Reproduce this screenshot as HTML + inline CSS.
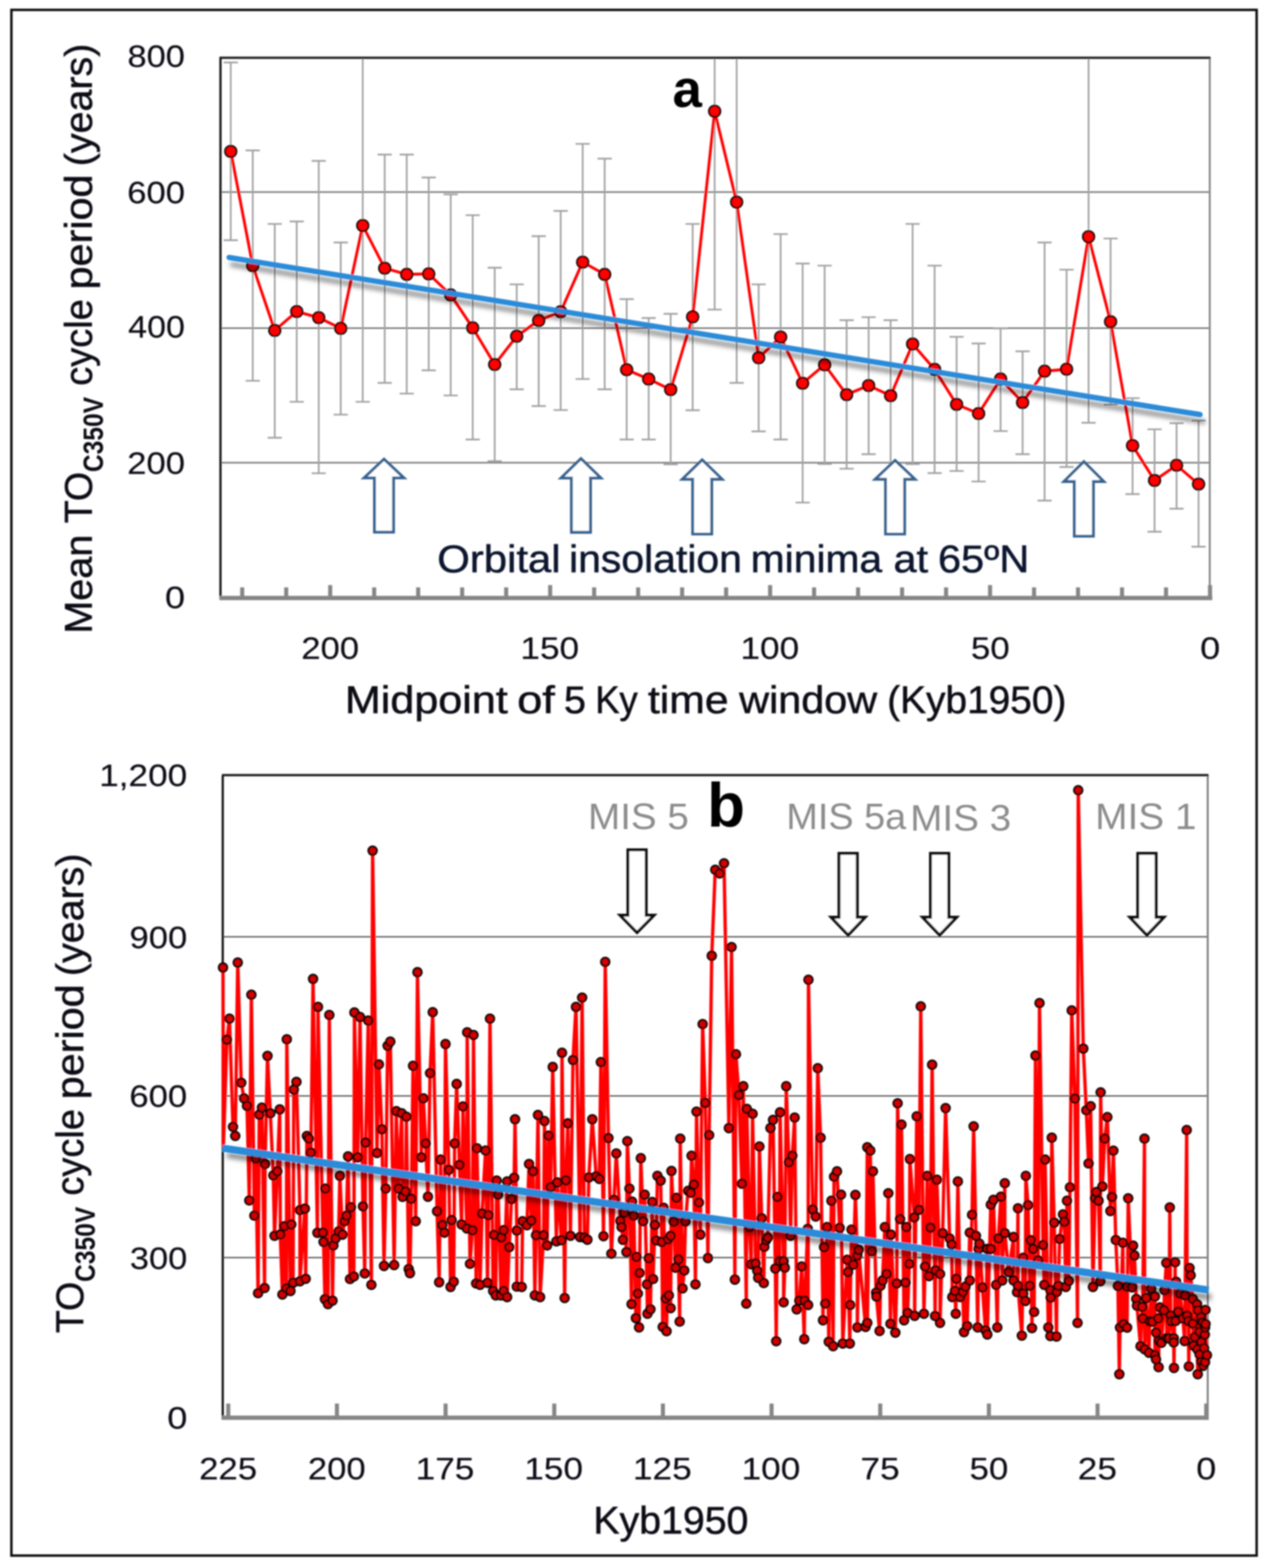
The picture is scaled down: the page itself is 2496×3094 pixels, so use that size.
<!DOCTYPE html>
<html lang="en"><head><meta charset="utf-8"><title>TO cycle period</title>
<style>
html,body{margin:0;padding:0;background:#fff;}
body{width:2496px;height:3094px;}
svg{display:block;font-family:"Liberation Sans", sans-serif;}
</style></head><body>
<svg width="2496" height="3094" viewBox="0 0 2496 3094">
<defs>
<filter id="sh" x="-5%" y="-50%" width="110%" height="200%"><feGaussianBlur stdDeviation="5"/></filter>
<filter id="soft" x="-2%" y="-2%" width="104%" height="104%"><feGaussianBlur stdDeviation="1.4"/></filter>
</defs>
<rect width="2496" height="3094" fill="#fff"/>
<g filter="url(#soft)">

<rect x="22.5" y="19.5" width="2457" height="3050" fill="none" stroke="#0a0a0a" stroke-width="4.8"/>
<line x1="435.0" x2="2387.0" y1="913" y2="913" stroke="#787878" stroke-width="3"/>
<line x1="435.0" x2="2387.0" y1="647.5" y2="647.5" stroke="#787878" stroke-width="3"/>
<line x1="435.0" x2="2387.0" y1="379" y2="379" stroke="#787878" stroke-width="3"/>
<g stroke="#a2a2a2" stroke-width="3.4" fill="none">
<path d="M455.3 123.2V474M441.3 474h28M441.3 123.2h28"/>
<path d="M498.7 296.7V751.4M484.7 751.4h28M484.7 296.7h28"/>
<path d="M542.1 441.9V863.7M528.1 863.7h28M528.1 441.9h28"/>
<path d="M585.5 437V792.9M571.5 792.9h28M571.5 437h28"/>
<path d="M628.9 317.5V933.9M614.9 933.9h28M614.9 317.5h28"/>
<path d="M672.3 478.5V818.1M658.3 818.1h28M658.3 478.5h28"/>
<path d="M715.7 114V792.9M701.7 792.9h28"/>
<path d="M759.1 305V755.5M745.1 755.5h28M745.1 305h28"/>
<path d="M802.5 305V776.6M788.5 776.6h28M788.5 305h28"/>
<path d="M845.9 350.3V730.7M831.9 730.7h28M831.9 350.3h28"/>
<path d="M889.3 383.5V780.4M875.3 780.4h28M875.3 383.5h28"/>
<path d="M932.7 424.6V867.2M918.7 867.2h28M918.7 424.6h28"/>
<path d="M976.1 528.3V910M962.1 910h28M962.1 528.3h28"/>
<path d="M1019.5 561.1V768.3M1005.5 768.3h28M1005.5 561.1h28"/>
<path d="M1062.9 466V801.2M1048.9 801.2h28M1048.9 466h28"/>
<path d="M1106.3 416.3V809.1M1092.3 809.1h28M1092.3 416.3h28"/>
<path d="M1149.7 283.9V747.9M1135.7 747.9h28M1135.7 283.9h28"/>
<path d="M1193.1 313V768.3M1179.1 768.3h28M1179.1 313h28"/>
<path d="M1236.5 590.2V867.2M1222.5 867.2h28M1222.5 590.2h28"/>
<path d="M1279.9 627.5V867.2M1265.9 867.2h28M1265.9 627.5h28"/>
<path d="M1323.3 619.2V916.3M1309.3 916.3h28M1309.3 619.2h28"/>
<path d="M1366.7 441.9V809.5M1352.7 809.5h28M1352.7 441.9h28"/>
<path d="M1410.1 114V610.9M1396.1 610.9h28"/>
<path d="M1453.5 114V755.5M1439.5 755.5h28"/>
<path d="M1496.9 561.1V851.3M1482.9 851.3h28M1482.9 561.1h28"/>
<path d="M1540.3 461.9V867.2M1526.3 867.2h28M1526.3 461.9h28"/>
<path d="M1583.7 520V991.6M1569.7 991.6h28M1569.7 520h28"/>
<path d="M1627.1 524.1V915.5M1613.1 915.5h28M1613.1 524.1h28"/>
<path d="M1670.5 631.8V924.9M1656.5 924.9h28M1656.5 631.8h28"/>
<path d="M1713.9 625.9V896.2M1699.9 896.2h28M1699.9 625.9h28"/>
<path d="M1757.3 631.8V930M1743.3 930h28M1743.3 631.8h28"/>
<path d="M1800.7 441.9V915.7M1786.7 915.7h28M1786.7 441.9h28"/>
<path d="M1844.1 524.1V933.5M1830.1 933.5h28M1830.1 524.1h28"/>
<path d="M1887.5 664.6V929.4M1873.5 929.4h28M1873.5 664.6h28"/>
<path d="M1930.9 677.8V950.1M1916.9 950.1h28M1916.9 677.8h28"/>
<path d="M1974.3 648V850.6M1960.3 850.6h28M1960.3 648h28"/>
<path d="M2017.7 693.3V896.2M2003.7 896.2h28M2003.7 693.3h28"/>
<path d="M2061.1 478.5V987.8M2047.1 987.8h28M2047.1 478.5h28"/>
<path d="M2104.5 532.1V921.5M2090.5 921.5h28M2090.5 532.1h28"/>
<path d="M2147.9 114V834.3M2133.9 834.3h28"/>
<path d="M2191.3 470.6V798.5M2177.3 798.5h28M2177.3 470.6h28"/>
<path d="M2234.7 785.6V975M2220.7 975h28M2220.7 785.6h28"/>
<path d="M2278.1 847.1V1049.3M2264.1 1049.3h28M2264.1 847.1h28"/>
<path d="M2321.5 835V1003.7M2307.5 1003.7h28M2307.5 835h28"/>
<path d="M2364.9 829.9V1078.7M2350.9 1078.7h28M2350.9 829.9h28"/>
</g>
<line x1="2387.0" x2="2387.0" y1="114.0" y2="1179.5" stroke="#8c8c8c" stroke-width="4"/>
<line x1="433.0" x2="2388.5" y1="114.0" y2="114.0" stroke="#1c1c1c" stroke-width="4.4"/>
<line x1="435.0" x2="435.0" y1="114.0" y2="1182.5" stroke="#141414" stroke-width="4.4"/>
<line x1="433.0" x2="2392.0" y1="1180.0" y2="1180.0" stroke="#858585" stroke-width="8.5"/>
<g stroke="#858585" stroke-width="8">
<line x1="2387.5" x2="2387.5" y1="1154.5" y2="1179.5"/>
<line x1="2300.7" x2="2300.7" y1="1159" y2="1179.5"/>
<line x1="2213.9" x2="2213.9" y1="1159" y2="1179.5"/>
<line x1="2127.1" x2="2127.1" y1="1159" y2="1179.5"/>
<line x1="2040.3" x2="2040.3" y1="1159" y2="1179.5"/>
<line x1="1953.5" x2="1953.5" y1="1154.5" y2="1179.5"/>
<line x1="1866.7" x2="1866.7" y1="1159" y2="1179.5"/>
<line x1="1779.9" x2="1779.9" y1="1159" y2="1179.5"/>
<line x1="1693.1" x2="1693.1" y1="1159" y2="1179.5"/>
<line x1="1606.3" x2="1606.3" y1="1159" y2="1179.5"/>
<line x1="1519.5" x2="1519.5" y1="1154.5" y2="1179.5"/>
<line x1="1432.7" x2="1432.7" y1="1159" y2="1179.5"/>
<line x1="1345.9" x2="1345.9" y1="1159" y2="1179.5"/>
<line x1="1259.1" x2="1259.1" y1="1159" y2="1179.5"/>
<line x1="1172.3" x2="1172.3" y1="1159" y2="1179.5"/>
<line x1="1085.5" x2="1085.5" y1="1154.5" y2="1179.5"/>
<line x1="998.7" x2="998.7" y1="1159" y2="1179.5"/>
<line x1="911.9" x2="911.9" y1="1159" y2="1179.5"/>
<line x1="825.1" x2="825.1" y1="1159" y2="1179.5"/>
<line x1="738.3" x2="738.3" y1="1159" y2="1179.5"/>
<line x1="651.5" x2="651.5" y1="1154.5" y2="1179.5"/>
<line x1="564.7" x2="564.7" y1="1159" y2="1179.5"/>
<line x1="477.9" x2="477.9" y1="1159" y2="1179.5"/>
</g>
<path d="M757.7 906L797 943H776.5V1050H738.9V943H718.4Z" fill="#fff" stroke="#35628f" stroke-width="5.6" stroke-linejoin="miter"/>
<path d="M1146.3 905L1185.6 943.2H1165.1V1050.4H1127.5V943.2H1107Z" fill="#fff" stroke="#35628f" stroke-width="5.6" stroke-linejoin="miter"/>
<path d="M1385.5 907.5L1424.8 945.6H1404.3V1053.8H1366.7V945.6H1346.2Z" fill="#fff" stroke="#35628f" stroke-width="5.6" stroke-linejoin="miter"/>
<path d="M1766.1 908.5L1805.4 945.6H1784.9V1053.8H1747.3V945.6H1726.8Z" fill="#fff" stroke="#35628f" stroke-width="5.6" stroke-linejoin="miter"/>
<path d="M2138.6 911L2177.9 950.1H2157.4V1058H2119.8V950.1H2099.3Z" fill="#fff" stroke="#35628f" stroke-width="5.6" stroke-linejoin="miter"/>
<polyline points="455.3,298.8 498.7,524.2 542.1,652 585.5,614.7 628.9,626.8 672.3,647.9 715.7,445 759.1,529.3 802.5,541.4 845.9,540.4 889.3,581.9 932.7,646.9 976.1,719.2 1019.5,663.4 1062.9,632.4 1106.3,615 1149.7,517.2 1193.1,541.4 1236.5,729.6 1279.9,747.9 1323.3,768.7 1366.7,625.3 1410.1,219.6 1453.5,398.7 1496.9,706.1 1540.3,665 1583.7,756.2 1627.1,719.9 1670.5,778.7 1713.9,760.7 1757.3,780.8 1800.7,678.8 1844.1,728.9 1887.5,798 1930.9,816 1974.3,747.9 2017.7,794.2 2061.1,732.4 2104.5,728.6 2147.9,467.1 2191.3,634.7 2234.7,879.3 2278.1,948.1 2321.5,918 2364.9,955.3" fill="none" stroke="#ff0000" stroke-width="5.6" stroke-linejoin="round"/>
<g fill="#ff0000" stroke="#000" stroke-width="3.5">
<circle cx="455.3" cy="298.8" r="11.3"/>
<circle cx="498.7" cy="524.2" r="11.3"/>
<circle cx="542.1" cy="652" r="11.3"/>
<circle cx="585.5" cy="614.7" r="11.3"/>
<circle cx="628.9" cy="626.8" r="11.3"/>
<circle cx="672.3" cy="647.9" r="11.3"/>
<circle cx="715.7" cy="445" r="11.3"/>
<circle cx="759.1" cy="529.3" r="11.3"/>
<circle cx="802.5" cy="541.4" r="11.3"/>
<circle cx="845.9" cy="540.4" r="11.3"/>
<circle cx="889.3" cy="581.9" r="11.3"/>
<circle cx="932.7" cy="646.9" r="11.3"/>
<circle cx="976.1" cy="719.2" r="11.3"/>
<circle cx="1019.5" cy="663.4" r="11.3"/>
<circle cx="1062.9" cy="632.4" r="11.3"/>
<circle cx="1106.3" cy="615" r="11.3"/>
<circle cx="1149.7" cy="517.2" r="11.3"/>
<circle cx="1193.1" cy="541.4" r="11.3"/>
<circle cx="1236.5" cy="729.6" r="11.3"/>
<circle cx="1279.9" cy="747.9" r="11.3"/>
<circle cx="1323.3" cy="768.7" r="11.3"/>
<circle cx="1366.7" cy="625.3" r="11.3"/>
<circle cx="1410.1" cy="219.6" r="11.3"/>
<circle cx="1453.5" cy="398.7" r="11.3"/>
<circle cx="1496.9" cy="706.1" r="11.3"/>
<circle cx="1540.3" cy="665" r="11.3"/>
<circle cx="1583.7" cy="756.2" r="11.3"/>
<circle cx="1627.1" cy="719.9" r="11.3"/>
<circle cx="1670.5" cy="778.7" r="11.3"/>
<circle cx="1713.9" cy="760.7" r="11.3"/>
<circle cx="1757.3" cy="780.8" r="11.3"/>
<circle cx="1800.7" cy="678.8" r="11.3"/>
<circle cx="1844.1" cy="728.9" r="11.3"/>
<circle cx="1887.5" cy="798" r="11.3"/>
<circle cx="1930.9" cy="816" r="11.3"/>
<circle cx="1974.3" cy="747.9" r="11.3"/>
<circle cx="2017.7" cy="794.2" r="11.3"/>
<circle cx="2061.1" cy="732.4" r="11.3"/>
<circle cx="2104.5" cy="728.6" r="11.3"/>
<circle cx="2147.9" cy="467.1" r="11.3"/>
<circle cx="2191.3" cy="634.7" r="11.3"/>
<circle cx="2234.7" cy="879.3" r="11.3"/>
<circle cx="2278.1" cy="948.1" r="11.3"/>
<circle cx="2321.5" cy="918" r="11.3"/>
<circle cx="2364.9" cy="955.3" r="11.3"/>
</g>
<line x1="458" y1="522" x2="2374" y2="832" stroke="#000" stroke-opacity="0.45" stroke-width="9" stroke-linecap="round" filter="url(#sh)"/>
<line x1="452" y1="508" x2="2368" y2="818" stroke="#2b8bd9" stroke-width="10.4" stroke-linecap="round"/>
<text transform="translate(251.4 132.1) scale(1.1153 1)" font-size="61" fill="#101018" stroke="#101018" stroke-width="0.3">800</text>
<text transform="translate(250.9 400.8) scale(1.1206 1)" font-size="61" fill="#101018" stroke="#101018" stroke-width="0.3">600</text>
<text transform="translate(252.8 666.2) scale(1.1014 1)" font-size="61" fill="#101018" stroke="#101018" stroke-width="0.3">400</text>
<text transform="translate(250.9 935.3) scale(1.1206 1)" font-size="61" fill="#101018" stroke="#101018" stroke-width="0.3">200</text>
<text transform="translate(325.5 1199.9) scale(1.1673 1)" font-size="61" fill="#101018" stroke="#101018" stroke-width="0.3">0</text>
<text transform="translate(594.4 1300) scale(1.1206 1)" font-size="61" fill="#101018" stroke="#101018" stroke-width="0.3">200</text>
<text transform="translate(1026.8 1300) scale(1.1386 1)" font-size="61" fill="#101018" stroke="#101018" stroke-width="0.3">150</text>
<text transform="translate(1461 1300) scale(1.1386 1)" font-size="61" fill="#101018" stroke="#101018" stroke-width="0.3">100</text>
<text transform="translate(1915.8 1300) scale(1.1273 1)" font-size="61" fill="#101018" stroke="#101018" stroke-width="0.3">50</text>
<text transform="translate(2367.9 1300) scale(1.1673 1)" font-size="61" fill="#101018" stroke="#101018" stroke-width="0.3">0</text>
<text transform="translate(680.4 1407.1) scale(1.1120 1)" font-size="76.5" fill="#101018" stroke="#101018" stroke-width="1.0">Midpoint</text>
<text transform="translate(1020.5 1407.1) scale(1.1645 1)" font-size="76.5" fill="#101018" stroke="#101018" stroke-width="1.0">of</text>
<text transform="translate(1112.8 1407.1) scale(1.0210 1)" font-size="76.5" fill="#101018" stroke="#101018" stroke-width="1.0">5</text>
<text transform="translate(1174.4 1407.1) scale(0.9395 1)" font-size="76.5" fill="#101018" stroke="#101018" stroke-width="1.0">Ky</text>
<text transform="translate(1278.4 1407.1) scale(1.1008 1)" font-size="76.5" fill="#101018" stroke="#101018" stroke-width="1.0">time</text>
<text transform="translate(1458.5 1407.1) scale(1.0669 1)" font-size="76.5" fill="#101018" stroke="#101018" stroke-width="1.0">window</text>
<text transform="translate(1750.6 1407.1) scale(1.0018 1)" font-size="76.5" fill="#101018" stroke="#101018" stroke-width="1.0">(Kyb1950)</text>
<text transform="translate(862.7 1129.2) scale(1.0809 1)" font-size="76.5" fill="#10182e" stroke="#10182e" stroke-width="1.0">Orbital</text>
<text transform="translate(1122.7 1129.2) scale(1.0560 1)" font-size="76.5" fill="#10182e" stroke="#10182e" stroke-width="1.0">insolation</text>
<text transform="translate(1481.3 1129.2) scale(1.0515 1)" font-size="76.5" fill="#10182e" stroke="#10182e" stroke-width="1.0">minima</text>
<text transform="translate(1763.1 1129.2) scale(1.0691 1)" font-size="76.5" fill="#10182e" stroke="#10182e" stroke-width="1.0">at</text>
<text transform="translate(1850.7 1129.2) scale(1.0704 1)" font-size="76.5" fill="#10182e" stroke="#10182e" stroke-width="1.0">65ºN</text>
<text transform="translate(1326.9 210.6) scale(1.0119 1)" font-size="103" fill="#000" font-weight="bold">a</text>
<text transform="translate(180.9 1250.5) rotate(-90) scale(1.0213 1)" font-size="76.5" fill="#101018" stroke="#101018" stroke-width="1.0">Mean</text>
<text transform="translate(180.9 1032.5) rotate(-90) scale(0.9673 1)" font-size="76.5" fill="#101018" stroke="#101018" stroke-width="1.0">TO</text>
<text transform="translate(203.2 931.4) rotate(-90) scale(0.8813 1)" font-size="55" fill="#101018" font-weight="bold">C350V</text>
<text transform="translate(180.9 761.2) rotate(-90) scale(0.9808 1)" font-size="76.5" fill="#101018" stroke="#101018" stroke-width="1.0">cycle</text>
<text transform="translate(180.9 571.3) rotate(-90) scale(1.0679 1)" font-size="76.5" fill="#101018" stroke="#101018" stroke-width="1.0">period</text>
<text transform="translate(180.9 327.9) rotate(-90) scale(1.0156 1)" font-size="76.5" fill="#101018" stroke="#101018" stroke-width="1.0">(years)</text>
<line x1="439.5" x2="2383.0" y1="2481.5" y2="2481.5" stroke="#6a6a6a" stroke-width="3.2"/>
<line x1="439.5" x2="2383.0" y1="2162.5" y2="2162.5" stroke="#6a6a6a" stroke-width="3.2"/>
<line x1="439.5" x2="2383.0" y1="1848.5" y2="1848.5" stroke="#6a6a6a" stroke-width="3.2"/>
<line x1="2383.0" x2="2383.0" y1="1529.5" y2="2797.5" stroke="#858585" stroke-width="4"/>
<line x1="438.0" x2="2384.5" y1="1529.5" y2="1529.5" stroke="#1c1c1c" stroke-width="4.4"/>
<line x1="439.5" x2="439.5" y1="1529.5" y2="2800.5" stroke="#141414" stroke-width="4.4"/>
<line x1="437.5" x2="2385.0" y1="2797.5" y2="2797.5" stroke="#858585" stroke-width="8.5"/>
<g stroke="#858585" stroke-width="8">
<line x1="2380" x2="2380" y1="2769.5" y2="2797.5"/>
<line x1="2165.6" x2="2165.6" y1="2769.5" y2="2797.5"/>
<line x1="1951.2" x2="1951.2" y1="2769.5" y2="2797.5"/>
<line x1="1736.8" x2="1736.8" y1="2769.5" y2="2797.5"/>
<line x1="1522.4" x2="1522.4" y1="2769.5" y2="2797.5"/>
<line x1="1308" x2="1308" y1="2769.5" y2="2797.5"/>
<line x1="1093.6" x2="1093.6" y1="2769.5" y2="2797.5"/>
<line x1="879.2" x2="879.2" y1="2769.5" y2="2797.5"/>
<line x1="664.8" x2="664.8" y1="2769.5" y2="2797.5"/>
<line x1="450.4" x2="450.4" y1="2769.5" y2="2797.5"/>
</g>
<path d="M1239 1677H1275V1806H1290.5L1257 1840L1223.5 1806H1239Z" fill="#fff" stroke="#0c0c0c" stroke-width="5.8" stroke-linejoin="miter"/>
<path d="M1655.5 1684H1691.5V1810H1707L1673.5 1845L1640 1810H1655.5Z" fill="#fff" stroke="#0c0c0c" stroke-width="5.8" stroke-linejoin="miter"/>
<path d="M1836 1684H1872V1810H1887.5L1854 1845L1820.5 1810H1836Z" fill="#fff" stroke="#0c0c0c" stroke-width="5.8" stroke-linejoin="miter"/>
<path d="M2245 1684H2281V1810H2296.5L2263 1845L2229.5 1810H2245Z" fill="#fff" stroke="#0c0c0c" stroke-width="5.8" stroke-linejoin="miter"/>
<polyline points="440,1909.1 440.8,2262 447.6,2051.5 452.8,2010 459.7,2223.5 464.2,2241.5 469.1,1899.4 476,2136.5 481.5,2167.3 487.4,2182.1 491.9,2368.7 496,1962.7 501.9,2398.7 504.7,2285.7 509.2,2551.8 511.6,2199.4 516.8,2185.6 522,2541.5 523,2296.8 527.8,2083.6 533.4,2196.7 539.2,2319.2 541.7,2438.5 547.2,2311.3 552,2189.1 553.1,2435.7 557.2,2554.3 561,2419.5 565.2,2542.2 565.9,2050.8 573.1,2547.4 574.8,2416 578.3,2531.1 579.7,2150 584.9,2134.8 591.8,2387.7 591.8,2528.3 601.5,2384.9 603.2,2523.2 605.6,2241.5 609.4,2246.7 613.5,2274.3 617.7,1931.6 626.3,2432.6 627.4,1986.9 637.1,2432.3 638.4,2450.6 641.2,2563.6 641.9,2345.2 647.1,2573.3 649.8,2002.8 656.1,2566.4 657.8,2457.5 661.9,2443.7 668.2,2429.8 670.6,2320.3 675.8,2436.1 679.9,2409.8 683.7,2398.7 686.8,2281.9 690.6,2523.8 692.4,2382.1 698.2,2518.7 699.3,1997.9 705.8,2283.6 710.3,2006.9 716.2,2380.4 719.7,2512.8 721.4,2254.6 726.6,2013.8 732.8,2535.3 735.2,1678.6 743.8,2275 747.6,2100.2 753.5,2228.3 757.7,2497.9 761.1,2345.2 764.9,2063.6 770.1,2055.3 777.7,2496.2 781.9,2192.5 786.4,2345.2 792.6,2196.7 794.3,2361.8 800.2,2351 801.9,2203.5 806.4,2504.1 808.8,2512.1 811.6,2365.2 815,2103 820.2,2409.8 823.7,1918.4 831.3,2283.6 835.4,2167.3 839.9,2256.3 844.4,2361.4 848.6,2117.5 853.8,1997.2 862.4,2390.1 866.5,2530.1 869.3,2288.1 872.8,2417.1 876.9,2432.3 879,2060.1 885.6,2308.2 889,2539.4 891.1,2407.4 895.2,2529 897,2256.3 901.1,2138.9 906.6,2298.5 910.8,2416 913.5,2183.2 921.2,2424 921.8,2037 927.4,2493.8 932.2,2427.4 934.3,2042.2 939.5,2532.5 940.9,2265.7 947.1,2535.3 951.2,2394.6 958.1,2270.2 961.9,2531.1 963.7,2397.7 966.8,2010 973,2547.4 974.7,2436.8 978.2,2556 979.9,2329.6 982.7,2357.3 988.5,2556 989.2,2441.9 993.7,2427.4 993.7,2547.4 1000.6,2331.3 1000.6,2559.4 1004.8,2460.9 1009.3,2365.9 1014.5,2323.7 1016.2,2208.6 1019.7,2428.1 1019.7,2538.7 1029.4,2539.4 1031.1,2409.8 1039.7,2417.7 1043.9,2296.8 1048.4,2408.4 1051.8,2311.3 1055.3,2556 1057.7,2437.4 1061.5,2200.1 1065.7,2559.4 1072.6,2437.4 1074.3,2212.1 1079.5,2457.5 1082.3,2240.8 1086.4,2342.4 1090.6,2105.4 1097.8,2449.5 1099.5,2333.1 1107.8,2447.1 1108.9,2077.4 1114.1,2561.2 1116.5,2328.9 1120.3,2216.6 1125.5,2438.5 1130.6,2091.6 1136.5,1986.9 1144.5,2440.9 1148.6,1968.5 1153.1,2441.9 1159,2446.1 1161.8,2323.4 1168.7,2208.6 1176.3,2321 1182.5,2326.2 1185.6,2095.7 1190.8,2439.2 1194.2,1898 1200.5,2245.6 1206.3,2473.7 1211.5,2367.6 1216,2276 1224,2409.1 1226.4,2421.2 1229.1,2446.4 1231.6,2392.9 1236.1,2470.6 1237.8,2251.8 1241.9,2345.2 1246.1,2573.3 1247.1,2371.1 1250.6,2398.7 1254.7,2600.9 1255.8,2480 1258.5,2552.5 1260.9,2619.2 1262,2511.8 1264.4,2285.4 1268.9,2409.8 1272,2357.3 1276.5,2534.2 1277.5,2592.3 1280,2482.7 1283.4,2583.6 1286.9,2371.8 1288.6,2523.8 1292.1,2417.1 1294.8,2447.8 1297.2,2320.3 1303.5,2329.6 1305.9,2450.6 1307.6,2618.2 1309.3,2383.2 1313.5,2562.2 1315.2,2626.8 1318,2445.4 1319.7,2556 1323.2,2438.5 1323.2,2581.2 1324.9,2310.6 1329.4,2410.8 1332.8,2501.4 1334.6,2363.5 1338.7,2485.1 1341.1,2607.8 1342.2,2246.7 1346.7,2542.2 1350.1,2506.9 1352.5,2410.1 1357.7,2349.7 1362.9,2353.8 1364.6,2280.5 1369.1,2337.2 1372.2,2534.2 1374.3,2193.5 1379.1,2372.8 1381.9,2436.1 1386.4,2020.7 1391.6,2176.3 1396.8,2482.4 1399.2,2239.7 1404.4,1885.9 1411.3,1716.2 1419.9,1723.5 1428.6,1703.5 1438.2,2225.9 1443.4,1868.7 1450,2524.9 1452.1,2080.2 1457.9,2160.7 1463.8,2335.8 1466.6,2143.4 1472.5,2572.2 1473.5,2188 1478.7,2421.2 1482.1,2494.8 1484.9,2197.7 1490.8,2493.1 1494.2,2507.6 1496,2521.4 1498.4,2262.2 1502.9,2403.9 1507,2531.8 1508.1,2460.3 1511.5,2447.1 1515,2441.9 1520.2,2225.9 1525.3,2209.7 1529.8,2503.1 1531.6,2646.5 1534,2361.8 1538.1,2488.6 1539.2,2194.9 1546.1,2488.6 1546.1,2569.8 1548.5,2501.4 1551.3,2143.4 1556.5,2293.3 1559.9,2438.5 1563.4,2280.2 1567.9,2205.2 1572,2583.6 1577.2,2566.4 1581.7,2499 1586.9,2642.4 1587.6,2566.4 1593.8,2424.7 1594.5,2575 1595.2,1933.3 1603.5,2386.6 1609.4,2400.5 1613.5,2107.8 1619.1,2244.9 1623.9,2605.1 1626,2460.9 1628.4,2572.2 1631.8,2421.2 1635.3,2647.6 1640.5,2369.4 1643.9,2656.2 1645.7,2321.7 1651.5,2311.3 1656.7,2422.9 1659.5,2357.3 1662.9,2651 1671.6,2485.8 1673.3,2510 1676.8,2651 1677.5,2575 1680.2,2426.4 1683.7,2495.5 1687.8,2357.9 1691.6,2477.5 1691.6,2619.2 1694.1,2466.1 1707.9,2618.2 1711.3,2263.9 1711.3,2610.3 1717.2,2270.2 1720,2468.9 1722.4,2311.3 1728.6,2550.8 1729.3,2558.4 1735.5,2626.2 1737.3,2537 1741.4,2526.6 1745.9,2421.2 1749.4,2513.8 1752.8,2354.5 1757,2612 1758,2436.1 1766.6,2629.6 1769.4,2532.5 1771.1,2177 1776,2405.6 1778.7,2219 1783.9,2605.1 1786.7,2530.8 1788.4,2421.2 1790.8,2590.6 1794.3,2493.8 1795.3,2287.1 1804,2402.2 1804.7,2596.4 1808.8,2202.8 1813.3,2387.3 1816.8,1985.8 1823,2592.3 1825.4,2499 1829.5,2320.3 1833,2518 1835.8,2422.2 1839.2,2100.9 1845.1,2596.8 1846.1,2506.6 1848.5,2327.9 1854.8,2513.8 1854.8,2610.3 1860,2433.3 1865.8,2186.6 1873.8,2443.7 1877.9,2455.8 1879,2559.4 1884.1,2547.4 1885.9,2592.3 1886.9,2523.2 1890,2331.3 1894.5,2559.4 1899.7,2549.1 1902.1,2628.6 1904.9,2538.7 1908.3,2616.5 1913.5,2432.3 1913.5,2526.6 1918,2397 1921.1,2222.5 1925.6,2438.5 1929.1,2619.2 1930.8,2464.4 1932.5,2454 1938.4,2540.4 1944.6,2625.1 1948.1,2464.4 1948.1,2633.1 1955,2377 1955,2464.4 1960.2,2367.6 1965.4,2535.3 1967.8,2619.2 1969.9,2443.7 1975,2361.4 1977.5,2526.6 1982.6,2334.8 1982.6,2433.3 1990.3,2510 1999.9,2440.9 1999.9,2526.6 2006.8,2549.8 2008.6,2384.2 2008.6,2537 2016.2,2635.5 2018.9,2481.7 2018.9,2552.5 2023.1,2567.1 2024.1,2320.3 2028.6,2378 2031.7,2537 2033.8,2447.1 2036.2,2620.6 2038.6,2464.4 2040.4,2588.8 2043.1,2082.9 2048.3,2486.9 2051.1,1979.3 2058,2456.8 2060.4,2535.3 2062.1,2288.1 2068.4,2619.2 2072.5,2545.6 2072.5,2636.2 2073.2,2560.5 2075.3,2244.9 2080.1,2412.6 2084.6,2637.2 2085.3,2549.1 2088.1,2537 2090.8,2444.7 2097.4,2396.3 2100.2,2410.8 2102.9,2539.4 2105.3,2369.4 2108.8,2527.6 2111.2,2342.7 2114.7,1993.8 2120.9,2167.6 2126.1,2610.3 2127.5,1559.3 2137.5,2069.1 2143.4,2190.8 2147.9,2295.7 2152,2182.8 2156.5,2539.4 2160.6,2364.2 2163.1,2352.1 2167.6,2369.4 2171,2528.3 2171.7,2155.5 2175.2,2341 2179.7,2246.7 2184.9,2204.2 2191,2389.6 2194.1,2361.7 2196.8,2270.5 2201.6,2446.7 2205.8,2537.4 2208.6,2711.6 2209.9,2619.6 2215.5,2452.3 2216.9,2612.6 2223.9,2538.8 2223.9,2619.6 2226.1,2364.5 2233.6,2540.1 2235.6,2457.9 2238.4,2477.4 2242,2563 2243.4,2576.4 2250.4,2656.4 2253.5,2578.8 2254.6,2601.5 2258.2,2246.8 2258.6,2662.5 2261.5,2561.1 2267.1,2669.2 2268.5,2607.1 2271.3,2542.9 2273.8,2608 2278.8,2558.3 2278.8,2674 2281,2629.4 2281,2682.3 2285.2,2601.5 2286.1,2697.7 2286.6,2646.1 2288.6,2579.7 2291.5,2649.8 2296.6,2585.2 2297.8,2545.7 2301.4,2491.9 2302,2640.5 2306.7,2640.9 2308.1,2382.6 2309.8,2595.9 2311.2,2607.1 2315.9,2640.5 2315.9,2648.9 2316.4,2699.1 2318.7,2490.8 2319.4,2606.7 2320.6,2529 2324.8,2588.1 2328.4,2552.7 2334,2601.5 2337.4,2646.1 2338.4,2556 2341.5,2229.8 2342.4,2595.9 2344.7,2606.7 2345.7,2696.3 2347.1,2502 2349.3,2516.4 2353.5,2563 2353.5,2611.8 2354.9,2655.3 2357.4,2638.4 2361.9,2573.6 2362.5,2662.5 2363.3,2711.6 2363.8,2585.2 2366.9,2628 2366.9,2672.6 2370,2599 2370.3,2648 2370.3,2686.5 2373,2609.3 2374.4,2694.9 2375.8,2660 2377.2,2633.6 2377.7,2619.4 2377.7,2687.8 2378.6,2584.8 2378.6,2612.6 2381.4,2674" fill="none" stroke="#ff0000" stroke-width="6.6" stroke-linejoin="round"/>
<g fill="#d40000" stroke="#000" stroke-width="4">
<circle cx="440" cy="1909.1" r="8.3"/>
<circle cx="447.6" cy="2051.5" r="8.3"/>
<circle cx="452.8" cy="2010" r="8.3"/>
<circle cx="459.7" cy="2223.5" r="8.3"/>
<circle cx="464.2" cy="2241.5" r="8.3"/>
<circle cx="469.1" cy="1899.4" r="8.3"/>
<circle cx="476" cy="2136.5" r="8.3"/>
<circle cx="481.5" cy="2167.3" r="8.3"/>
<circle cx="487.4" cy="2182.1" r="8.3"/>
<circle cx="491.9" cy="2368.7" r="8.3"/>
<circle cx="496" cy="1962.7" r="8.3"/>
<circle cx="501.9" cy="2398.7" r="8.3"/>
<circle cx="504.7" cy="2285.7" r="8.3"/>
<circle cx="509.2" cy="2551.8" r="8.3"/>
<circle cx="511.6" cy="2199.4" r="8.3"/>
<circle cx="516.8" cy="2185.6" r="8.3"/>
<circle cx="522" cy="2541.5" r="8.3"/>
<circle cx="523" cy="2296.8" r="8.3"/>
<circle cx="527.8" cy="2083.6" r="8.3"/>
<circle cx="533.4" cy="2196.7" r="8.3"/>
<circle cx="539.2" cy="2319.2" r="8.3"/>
<circle cx="541.7" cy="2438.5" r="8.3"/>
<circle cx="547.2" cy="2311.3" r="8.3"/>
<circle cx="552" cy="2189.1" r="8.3"/>
<circle cx="553.1" cy="2435.7" r="8.3"/>
<circle cx="557.2" cy="2554.3" r="8.3"/>
<circle cx="561" cy="2419.5" r="8.3"/>
<circle cx="565.2" cy="2542.2" r="8.3"/>
<circle cx="565.9" cy="2050.8" r="8.3"/>
<circle cx="573.1" cy="2547.4" r="8.3"/>
<circle cx="574.8" cy="2416" r="8.3"/>
<circle cx="578.3" cy="2531.1" r="8.3"/>
<circle cx="579.7" cy="2150" r="8.3"/>
<circle cx="584.9" cy="2134.8" r="8.3"/>
<circle cx="591.8" cy="2387.7" r="8.3"/>
<circle cx="591.8" cy="2528.3" r="8.3"/>
<circle cx="601.5" cy="2384.9" r="8.3"/>
<circle cx="603.2" cy="2523.2" r="8.3"/>
<circle cx="605.6" cy="2241.5" r="8.3"/>
<circle cx="609.4" cy="2246.7" r="8.3"/>
<circle cx="613.5" cy="2274.3" r="8.3"/>
<circle cx="617.7" cy="1931.6" r="8.3"/>
<circle cx="626.3" cy="2432.6" r="8.3"/>
<circle cx="627.4" cy="1986.9" r="8.3"/>
<circle cx="637.1" cy="2432.3" r="8.3"/>
<circle cx="638.4" cy="2450.6" r="8.3"/>
<circle cx="641.2" cy="2563.6" r="8.3"/>
<circle cx="641.9" cy="2345.2" r="8.3"/>
<circle cx="647.1" cy="2573.3" r="8.3"/>
<circle cx="649.8" cy="2002.8" r="8.3"/>
<circle cx="656.1" cy="2566.4" r="8.3"/>
<circle cx="657.8" cy="2457.5" r="8.3"/>
<circle cx="661.9" cy="2443.7" r="8.3"/>
<circle cx="668.2" cy="2429.8" r="8.3"/>
<circle cx="670.6" cy="2320.3" r="8.3"/>
<circle cx="675.8" cy="2436.1" r="8.3"/>
<circle cx="679.9" cy="2409.8" r="8.3"/>
<circle cx="683.7" cy="2398.7" r="8.3"/>
<circle cx="686.8" cy="2281.9" r="8.3"/>
<circle cx="690.6" cy="2523.8" r="8.3"/>
<circle cx="692.4" cy="2382.1" r="8.3"/>
<circle cx="698.2" cy="2518.7" r="8.3"/>
<circle cx="699.3" cy="1997.9" r="8.3"/>
<circle cx="705.8" cy="2283.6" r="8.3"/>
<circle cx="710.3" cy="2006.9" r="8.3"/>
<circle cx="716.2" cy="2380.4" r="8.3"/>
<circle cx="719.7" cy="2512.8" r="8.3"/>
<circle cx="721.4" cy="2254.6" r="8.3"/>
<circle cx="726.6" cy="2013.8" r="8.3"/>
<circle cx="732.8" cy="2535.3" r="8.3"/>
<circle cx="735.2" cy="1678.6" r="8.3"/>
<circle cx="743.8" cy="2275" r="8.3"/>
<circle cx="747.6" cy="2100.2" r="8.3"/>
<circle cx="753.5" cy="2228.3" r="8.3"/>
<circle cx="757.7" cy="2497.9" r="8.3"/>
<circle cx="761.1" cy="2345.2" r="8.3"/>
<circle cx="764.9" cy="2063.6" r="8.3"/>
<circle cx="770.1" cy="2055.3" r="8.3"/>
<circle cx="777.7" cy="2496.2" r="8.3"/>
<circle cx="781.9" cy="2192.5" r="8.3"/>
<circle cx="786.4" cy="2345.2" r="8.3"/>
<circle cx="792.6" cy="2196.7" r="8.3"/>
<circle cx="794.3" cy="2361.8" r="8.3"/>
<circle cx="800.2" cy="2351" r="8.3"/>
<circle cx="801.9" cy="2203.5" r="8.3"/>
<circle cx="806.4" cy="2504.1" r="8.3"/>
<circle cx="808.8" cy="2512.1" r="8.3"/>
<circle cx="811.6" cy="2365.2" r="8.3"/>
<circle cx="815" cy="2103" r="8.3"/>
<circle cx="820.2" cy="2409.8" r="8.3"/>
<circle cx="823.7" cy="1918.4" r="8.3"/>
<circle cx="831.3" cy="2283.6" r="8.3"/>
<circle cx="835.4" cy="2167.3" r="8.3"/>
<circle cx="839.9" cy="2256.3" r="8.3"/>
<circle cx="844.4" cy="2361.4" r="8.3"/>
<circle cx="848.6" cy="2117.5" r="8.3"/>
<circle cx="853.8" cy="1997.2" r="8.3"/>
<circle cx="862.4" cy="2390.1" r="8.3"/>
<circle cx="866.5" cy="2530.1" r="8.3"/>
<circle cx="869.3" cy="2288.1" r="8.3"/>
<circle cx="872.8" cy="2417.1" r="8.3"/>
<circle cx="876.9" cy="2432.3" r="8.3"/>
<circle cx="879" cy="2060.1" r="8.3"/>
<circle cx="885.6" cy="2308.2" r="8.3"/>
<circle cx="889" cy="2539.4" r="8.3"/>
<circle cx="891.1" cy="2407.4" r="8.3"/>
<circle cx="895.2" cy="2529" r="8.3"/>
<circle cx="897" cy="2256.3" r="8.3"/>
<circle cx="901.1" cy="2138.9" r="8.3"/>
<circle cx="906.6" cy="2298.5" r="8.3"/>
<circle cx="910.8" cy="2416" r="8.3"/>
<circle cx="913.5" cy="2183.2" r="8.3"/>
<circle cx="921.2" cy="2424" r="8.3"/>
<circle cx="921.8" cy="2037" r="8.3"/>
<circle cx="927.4" cy="2493.8" r="8.3"/>
<circle cx="932.2" cy="2427.4" r="8.3"/>
<circle cx="934.3" cy="2042.2" r="8.3"/>
<circle cx="939.5" cy="2532.5" r="8.3"/>
<circle cx="940.9" cy="2265.7" r="8.3"/>
<circle cx="947.1" cy="2535.3" r="8.3"/>
<circle cx="951.2" cy="2394.6" r="8.3"/>
<circle cx="958.1" cy="2270.2" r="8.3"/>
<circle cx="961.9" cy="2531.1" r="8.3"/>
<circle cx="963.7" cy="2397.7" r="8.3"/>
<circle cx="966.8" cy="2010" r="8.3"/>
<circle cx="973" cy="2547.4" r="8.3"/>
<circle cx="974.7" cy="2436.8" r="8.3"/>
<circle cx="978.2" cy="2556" r="8.3"/>
<circle cx="979.9" cy="2329.6" r="8.3"/>
<circle cx="982.7" cy="2357.3" r="8.3"/>
<circle cx="988.5" cy="2556" r="8.3"/>
<circle cx="989.2" cy="2441.9" r="8.3"/>
<circle cx="993.7" cy="2427.4" r="8.3"/>
<circle cx="993.7" cy="2547.4" r="8.3"/>
<circle cx="1000.6" cy="2331.3" r="8.3"/>
<circle cx="1000.6" cy="2559.4" r="8.3"/>
<circle cx="1004.8" cy="2460.9" r="8.3"/>
<circle cx="1009.3" cy="2365.9" r="8.3"/>
<circle cx="1014.5" cy="2323.7" r="8.3"/>
<circle cx="1016.2" cy="2208.6" r="8.3"/>
<circle cx="1019.7" cy="2428.1" r="8.3"/>
<circle cx="1019.7" cy="2538.7" r="8.3"/>
<circle cx="1029.4" cy="2539.4" r="8.3"/>
<circle cx="1031.1" cy="2409.8" r="8.3"/>
<circle cx="1039.7" cy="2417.7" r="8.3"/>
<circle cx="1043.9" cy="2296.8" r="8.3"/>
<circle cx="1048.4" cy="2408.4" r="8.3"/>
<circle cx="1051.8" cy="2311.3" r="8.3"/>
<circle cx="1055.3" cy="2556" r="8.3"/>
<circle cx="1057.7" cy="2437.4" r="8.3"/>
<circle cx="1061.5" cy="2200.1" r="8.3"/>
<circle cx="1065.7" cy="2559.4" r="8.3"/>
<circle cx="1072.6" cy="2437.4" r="8.3"/>
<circle cx="1074.3" cy="2212.1" r="8.3"/>
<circle cx="1079.5" cy="2457.5" r="8.3"/>
<circle cx="1082.3" cy="2240.8" r="8.3"/>
<circle cx="1086.4" cy="2342.4" r="8.3"/>
<circle cx="1090.6" cy="2105.4" r="8.3"/>
<circle cx="1097.8" cy="2449.5" r="8.3"/>
<circle cx="1099.5" cy="2333.1" r="8.3"/>
<circle cx="1107.8" cy="2447.1" r="8.3"/>
<circle cx="1108.9" cy="2077.4" r="8.3"/>
<circle cx="1114.1" cy="2561.2" r="8.3"/>
<circle cx="1116.5" cy="2328.9" r="8.3"/>
<circle cx="1120.3" cy="2216.6" r="8.3"/>
<circle cx="1125.5" cy="2438.5" r="8.3"/>
<circle cx="1130.6" cy="2091.6" r="8.3"/>
<circle cx="1136.5" cy="1986.9" r="8.3"/>
<circle cx="1144.5" cy="2440.9" r="8.3"/>
<circle cx="1148.6" cy="1968.5" r="8.3"/>
<circle cx="1153.1" cy="2441.9" r="8.3"/>
<circle cx="1159" cy="2446.1" r="8.3"/>
<circle cx="1161.8" cy="2323.4" r="8.3"/>
<circle cx="1168.7" cy="2208.6" r="8.3"/>
<circle cx="1176.3" cy="2321" r="8.3"/>
<circle cx="1182.5" cy="2326.2" r="8.3"/>
<circle cx="1185.6" cy="2095.7" r="8.3"/>
<circle cx="1190.8" cy="2439.2" r="8.3"/>
<circle cx="1194.2" cy="1898" r="8.3"/>
<circle cx="1200.5" cy="2245.6" r="8.3"/>
<circle cx="1206.3" cy="2473.7" r="8.3"/>
<circle cx="1211.5" cy="2367.6" r="8.3"/>
<circle cx="1216" cy="2276" r="8.3"/>
<circle cx="1224" cy="2409.1" r="8.3"/>
<circle cx="1226.4" cy="2421.2" r="8.3"/>
<circle cx="1229.1" cy="2446.4" r="8.3"/>
<circle cx="1231.6" cy="2392.9" r="8.3"/>
<circle cx="1236.1" cy="2470.6" r="8.3"/>
<circle cx="1237.8" cy="2251.8" r="8.3"/>
<circle cx="1241.9" cy="2345.2" r="8.3"/>
<circle cx="1246.1" cy="2573.3" r="8.3"/>
<circle cx="1247.1" cy="2371.1" r="8.3"/>
<circle cx="1250.6" cy="2398.7" r="8.3"/>
<circle cx="1254.7" cy="2600.9" r="8.3"/>
<circle cx="1255.8" cy="2480" r="8.3"/>
<circle cx="1258.5" cy="2552.5" r="8.3"/>
<circle cx="1260.9" cy="2619.2" r="8.3"/>
<circle cx="1262" cy="2511.8" r="8.3"/>
<circle cx="1264.4" cy="2285.4" r="8.3"/>
<circle cx="1268.9" cy="2409.8" r="8.3"/>
<circle cx="1272" cy="2357.3" r="8.3"/>
<circle cx="1276.5" cy="2534.2" r="8.3"/>
<circle cx="1277.5" cy="2592.3" r="8.3"/>
<circle cx="1280" cy="2482.7" r="8.3"/>
<circle cx="1283.4" cy="2583.6" r="8.3"/>
<circle cx="1286.9" cy="2371.8" r="8.3"/>
<circle cx="1288.6" cy="2523.8" r="8.3"/>
<circle cx="1292.1" cy="2417.1" r="8.3"/>
<circle cx="1294.8" cy="2447.8" r="8.3"/>
<circle cx="1297.2" cy="2320.3" r="8.3"/>
<circle cx="1303.5" cy="2329.6" r="8.3"/>
<circle cx="1305.9" cy="2450.6" r="8.3"/>
<circle cx="1307.6" cy="2618.2" r="8.3"/>
<circle cx="1309.3" cy="2383.2" r="8.3"/>
<circle cx="1313.5" cy="2562.2" r="8.3"/>
<circle cx="1315.2" cy="2626.8" r="8.3"/>
<circle cx="1318" cy="2445.4" r="8.3"/>
<circle cx="1319.7" cy="2556" r="8.3"/>
<circle cx="1323.2" cy="2438.5" r="8.3"/>
<circle cx="1323.2" cy="2581.2" r="8.3"/>
<circle cx="1324.9" cy="2310.6" r="8.3"/>
<circle cx="1329.4" cy="2410.8" r="8.3"/>
<circle cx="1332.8" cy="2501.4" r="8.3"/>
<circle cx="1334.6" cy="2363.5" r="8.3"/>
<circle cx="1338.7" cy="2485.1" r="8.3"/>
<circle cx="1341.1" cy="2607.8" r="8.3"/>
<circle cx="1342.2" cy="2246.7" r="8.3"/>
<circle cx="1346.7" cy="2542.2" r="8.3"/>
<circle cx="1350.1" cy="2506.9" r="8.3"/>
<circle cx="1352.5" cy="2410.1" r="8.3"/>
<circle cx="1357.7" cy="2349.7" r="8.3"/>
<circle cx="1362.9" cy="2353.8" r="8.3"/>
<circle cx="1364.6" cy="2280.5" r="8.3"/>
<circle cx="1369.1" cy="2337.2" r="8.3"/>
<circle cx="1372.2" cy="2534.2" r="8.3"/>
<circle cx="1374.3" cy="2193.5" r="8.3"/>
<circle cx="1379.1" cy="2372.8" r="8.3"/>
<circle cx="1381.9" cy="2436.1" r="8.3"/>
<circle cx="1386.4" cy="2020.7" r="8.3"/>
<circle cx="1391.6" cy="2176.3" r="8.3"/>
<circle cx="1396.8" cy="2482.4" r="8.3"/>
<circle cx="1399.2" cy="2239.7" r="8.3"/>
<circle cx="1404.4" cy="1885.9" r="8.3"/>
<circle cx="1411.3" cy="1716.2" r="8.3"/>
<circle cx="1419.9" cy="1723.5" r="8.3"/>
<circle cx="1428.6" cy="1703.5" r="8.3"/>
<circle cx="1438.2" cy="2225.9" r="8.3"/>
<circle cx="1443.4" cy="1868.7" r="8.3"/>
<circle cx="1450" cy="2524.9" r="8.3"/>
<circle cx="1452.1" cy="2080.2" r="8.3"/>
<circle cx="1457.9" cy="2160.7" r="8.3"/>
<circle cx="1463.8" cy="2335.8" r="8.3"/>
<circle cx="1466.6" cy="2143.4" r="8.3"/>
<circle cx="1472.5" cy="2572.2" r="8.3"/>
<circle cx="1473.5" cy="2188" r="8.3"/>
<circle cx="1478.7" cy="2421.2" r="8.3"/>
<circle cx="1482.1" cy="2494.8" r="8.3"/>
<circle cx="1484.9" cy="2197.7" r="8.3"/>
<circle cx="1490.8" cy="2493.1" r="8.3"/>
<circle cx="1494.2" cy="2507.6" r="8.3"/>
<circle cx="1496" cy="2521.4" r="8.3"/>
<circle cx="1498.4" cy="2262.2" r="8.3"/>
<circle cx="1502.9" cy="2403.9" r="8.3"/>
<circle cx="1507" cy="2531.8" r="8.3"/>
<circle cx="1508.1" cy="2460.3" r="8.3"/>
<circle cx="1511.5" cy="2447.1" r="8.3"/>
<circle cx="1515" cy="2441.9" r="8.3"/>
<circle cx="1520.2" cy="2225.9" r="8.3"/>
<circle cx="1525.3" cy="2209.7" r="8.3"/>
<circle cx="1529.8" cy="2503.1" r="8.3"/>
<circle cx="1531.6" cy="2646.5" r="8.3"/>
<circle cx="1534" cy="2361.8" r="8.3"/>
<circle cx="1538.1" cy="2488.6" r="8.3"/>
<circle cx="1539.2" cy="2194.9" r="8.3"/>
<circle cx="1546.1" cy="2488.6" r="8.3"/>
<circle cx="1546.1" cy="2569.8" r="8.3"/>
<circle cx="1548.5" cy="2501.4" r="8.3"/>
<circle cx="1551.3" cy="2143.4" r="8.3"/>
<circle cx="1556.5" cy="2293.3" r="8.3"/>
<circle cx="1559.9" cy="2438.5" r="8.3"/>
<circle cx="1563.4" cy="2280.2" r="8.3"/>
<circle cx="1567.9" cy="2205.2" r="8.3"/>
<circle cx="1572" cy="2583.6" r="8.3"/>
<circle cx="1577.2" cy="2566.4" r="8.3"/>
<circle cx="1581.7" cy="2499" r="8.3"/>
<circle cx="1586.9" cy="2642.4" r="8.3"/>
<circle cx="1587.6" cy="2566.4" r="8.3"/>
<circle cx="1593.8" cy="2424.7" r="8.3"/>
<circle cx="1594.5" cy="2575" r="8.3"/>
<circle cx="1595.2" cy="1933.3" r="8.3"/>
<circle cx="1603.5" cy="2386.6" r="8.3"/>
<circle cx="1609.4" cy="2400.5" r="8.3"/>
<circle cx="1613.5" cy="2107.8" r="8.3"/>
<circle cx="1619.1" cy="2244.9" r="8.3"/>
<circle cx="1623.9" cy="2605.1" r="8.3"/>
<circle cx="1626" cy="2460.9" r="8.3"/>
<circle cx="1628.4" cy="2572.2" r="8.3"/>
<circle cx="1631.8" cy="2421.2" r="8.3"/>
<circle cx="1635.3" cy="2647.6" r="8.3"/>
<circle cx="1640.5" cy="2369.4" r="8.3"/>
<circle cx="1643.9" cy="2656.2" r="8.3"/>
<circle cx="1645.7" cy="2321.7" r="8.3"/>
<circle cx="1651.5" cy="2311.3" r="8.3"/>
<circle cx="1656.7" cy="2422.9" r="8.3"/>
<circle cx="1659.5" cy="2357.3" r="8.3"/>
<circle cx="1662.9" cy="2651" r="8.3"/>
<circle cx="1671.6" cy="2485.8" r="8.3"/>
<circle cx="1673.3" cy="2510" r="8.3"/>
<circle cx="1676.8" cy="2651" r="8.3"/>
<circle cx="1677.5" cy="2575" r="8.3"/>
<circle cx="1680.2" cy="2426.4" r="8.3"/>
<circle cx="1683.7" cy="2495.5" r="8.3"/>
<circle cx="1687.8" cy="2357.9" r="8.3"/>
<circle cx="1691.6" cy="2477.5" r="8.3"/>
<circle cx="1691.6" cy="2619.2" r="8.3"/>
<circle cx="1694.1" cy="2466.1" r="8.3"/>
<circle cx="1707.9" cy="2618.2" r="8.3"/>
<circle cx="1711.3" cy="2263.9" r="8.3"/>
<circle cx="1711.3" cy="2610.3" r="8.3"/>
<circle cx="1717.2" cy="2270.2" r="8.3"/>
<circle cx="1720" cy="2468.9" r="8.3"/>
<circle cx="1722.4" cy="2311.3" r="8.3"/>
<circle cx="1728.6" cy="2550.8" r="8.3"/>
<circle cx="1729.3" cy="2558.4" r="8.3"/>
<circle cx="1735.5" cy="2626.2" r="8.3"/>
<circle cx="1737.3" cy="2537" r="8.3"/>
<circle cx="1741.4" cy="2526.6" r="8.3"/>
<circle cx="1745.9" cy="2421.2" r="8.3"/>
<circle cx="1749.4" cy="2513.8" r="8.3"/>
<circle cx="1752.8" cy="2354.5" r="8.3"/>
<circle cx="1757" cy="2612" r="8.3"/>
<circle cx="1758" cy="2436.1" r="8.3"/>
<circle cx="1766.6" cy="2629.6" r="8.3"/>
<circle cx="1769.4" cy="2532.5" r="8.3"/>
<circle cx="1771.1" cy="2177" r="8.3"/>
<circle cx="1776" cy="2405.6" r="8.3"/>
<circle cx="1778.7" cy="2219" r="8.3"/>
<circle cx="1783.9" cy="2605.1" r="8.3"/>
<circle cx="1786.7" cy="2530.8" r="8.3"/>
<circle cx="1788.4" cy="2421.2" r="8.3"/>
<circle cx="1790.8" cy="2590.6" r="8.3"/>
<circle cx="1794.3" cy="2493.8" r="8.3"/>
<circle cx="1795.3" cy="2287.1" r="8.3"/>
<circle cx="1804" cy="2402.2" r="8.3"/>
<circle cx="1804.7" cy="2596.4" r="8.3"/>
<circle cx="1808.8" cy="2202.8" r="8.3"/>
<circle cx="1813.3" cy="2387.3" r="8.3"/>
<circle cx="1816.8" cy="1985.8" r="8.3"/>
<circle cx="1823" cy="2592.3" r="8.3"/>
<circle cx="1825.4" cy="2499" r="8.3"/>
<circle cx="1829.5" cy="2320.3" r="8.3"/>
<circle cx="1833" cy="2518" r="8.3"/>
<circle cx="1835.8" cy="2422.2" r="8.3"/>
<circle cx="1839.2" cy="2100.9" r="8.3"/>
<circle cx="1845.1" cy="2596.8" r="8.3"/>
<circle cx="1846.1" cy="2506.6" r="8.3"/>
<circle cx="1848.5" cy="2327.9" r="8.3"/>
<circle cx="1854.8" cy="2513.8" r="8.3"/>
<circle cx="1854.8" cy="2610.3" r="8.3"/>
<circle cx="1860" cy="2433.3" r="8.3"/>
<circle cx="1865.8" cy="2186.6" r="8.3"/>
<circle cx="1873.8" cy="2443.7" r="8.3"/>
<circle cx="1877.9" cy="2455.8" r="8.3"/>
<circle cx="1879" cy="2559.4" r="8.3"/>
<circle cx="1884.1" cy="2547.4" r="8.3"/>
<circle cx="1885.9" cy="2592.3" r="8.3"/>
<circle cx="1886.9" cy="2523.2" r="8.3"/>
<circle cx="1890" cy="2331.3" r="8.3"/>
<circle cx="1894.5" cy="2559.4" r="8.3"/>
<circle cx="1899.7" cy="2549.1" r="8.3"/>
<circle cx="1902.1" cy="2628.6" r="8.3"/>
<circle cx="1904.9" cy="2538.7" r="8.3"/>
<circle cx="1908.3" cy="2616.5" r="8.3"/>
<circle cx="1913.5" cy="2432.3" r="8.3"/>
<circle cx="1913.5" cy="2526.6" r="8.3"/>
<circle cx="1918" cy="2397" r="8.3"/>
<circle cx="1921.1" cy="2222.5" r="8.3"/>
<circle cx="1925.6" cy="2438.5" r="8.3"/>
<circle cx="1929.1" cy="2619.2" r="8.3"/>
<circle cx="1930.8" cy="2464.4" r="8.3"/>
<circle cx="1932.5" cy="2454" r="8.3"/>
<circle cx="1938.4" cy="2540.4" r="8.3"/>
<circle cx="1944.6" cy="2625.1" r="8.3"/>
<circle cx="1948.1" cy="2464.4" r="8.3"/>
<circle cx="1948.1" cy="2633.1" r="8.3"/>
<circle cx="1955" cy="2377" r="8.3"/>
<circle cx="1955" cy="2464.4" r="8.3"/>
<circle cx="1960.2" cy="2367.6" r="8.3"/>
<circle cx="1965.4" cy="2535.3" r="8.3"/>
<circle cx="1967.8" cy="2619.2" r="8.3"/>
<circle cx="1969.9" cy="2443.7" r="8.3"/>
<circle cx="1975" cy="2361.4" r="8.3"/>
<circle cx="1977.5" cy="2526.6" r="8.3"/>
<circle cx="1982.6" cy="2334.8" r="8.3"/>
<circle cx="1982.6" cy="2433.3" r="8.3"/>
<circle cx="1990.3" cy="2510" r="8.3"/>
<circle cx="1999.9" cy="2440.9" r="8.3"/>
<circle cx="1999.9" cy="2526.6" r="8.3"/>
<circle cx="2006.8" cy="2549.8" r="8.3"/>
<circle cx="2008.6" cy="2384.2" r="8.3"/>
<circle cx="2008.6" cy="2537" r="8.3"/>
<circle cx="2016.2" cy="2635.5" r="8.3"/>
<circle cx="2018.9" cy="2481.7" r="8.3"/>
<circle cx="2018.9" cy="2552.5" r="8.3"/>
<circle cx="2023.1" cy="2567.1" r="8.3"/>
<circle cx="2024.1" cy="2320.3" r="8.3"/>
<circle cx="2028.6" cy="2378" r="8.3"/>
<circle cx="2031.7" cy="2537" r="8.3"/>
<circle cx="2033.8" cy="2447.1" r="8.3"/>
<circle cx="2036.2" cy="2620.6" r="8.3"/>
<circle cx="2038.6" cy="2464.4" r="8.3"/>
<circle cx="2040.4" cy="2588.8" r="8.3"/>
<circle cx="2043.1" cy="2082.9" r="8.3"/>
<circle cx="2048.3" cy="2486.9" r="8.3"/>
<circle cx="2051.1" cy="1979.3" r="8.3"/>
<circle cx="2058" cy="2456.8" r="8.3"/>
<circle cx="2060.4" cy="2535.3" r="8.3"/>
<circle cx="2062.1" cy="2288.1" r="8.3"/>
<circle cx="2068.4" cy="2619.2" r="8.3"/>
<circle cx="2072.5" cy="2545.6" r="8.3"/>
<circle cx="2072.5" cy="2636.2" r="8.3"/>
<circle cx="2073.2" cy="2560.5" r="8.3"/>
<circle cx="2075.3" cy="2244.9" r="8.3"/>
<circle cx="2080.1" cy="2412.6" r="8.3"/>
<circle cx="2084.6" cy="2637.2" r="8.3"/>
<circle cx="2085.3" cy="2549.1" r="8.3"/>
<circle cx="2088.1" cy="2537" r="8.3"/>
<circle cx="2090.8" cy="2444.7" r="8.3"/>
<circle cx="2097.4" cy="2396.3" r="8.3"/>
<circle cx="2100.2" cy="2410.8" r="8.3"/>
<circle cx="2102.9" cy="2539.4" r="8.3"/>
<circle cx="2105.3" cy="2369.4" r="8.3"/>
<circle cx="2108.8" cy="2527.6" r="8.3"/>
<circle cx="2111.2" cy="2342.7" r="8.3"/>
<circle cx="2114.7" cy="1993.8" r="8.3"/>
<circle cx="2120.9" cy="2167.6" r="8.3"/>
<circle cx="2126.1" cy="2610.3" r="8.3"/>
<circle cx="2127.5" cy="1559.3" r="8.3"/>
<circle cx="2137.5" cy="2069.1" r="8.3"/>
<circle cx="2143.4" cy="2190.8" r="8.3"/>
<circle cx="2147.9" cy="2295.7" r="8.3"/>
<circle cx="2152" cy="2182.8" r="8.3"/>
<circle cx="2156.5" cy="2539.4" r="8.3"/>
<circle cx="2160.6" cy="2364.2" r="8.3"/>
<circle cx="2163.1" cy="2352.1" r="8.3"/>
<circle cx="2167.6" cy="2369.4" r="8.3"/>
<circle cx="2171" cy="2528.3" r="8.3"/>
<circle cx="2171.7" cy="2155.5" r="8.3"/>
<circle cx="2175.2" cy="2341" r="8.3"/>
<circle cx="2179.7" cy="2246.7" r="8.3"/>
<circle cx="2184.9" cy="2204.2" r="8.3"/>
<circle cx="2191" cy="2389.6" r="8.3"/>
<circle cx="2194.1" cy="2361.7" r="8.3"/>
<circle cx="2196.8" cy="2270.5" r="8.3"/>
<circle cx="2201.6" cy="2446.7" r="8.3"/>
<circle cx="2205.8" cy="2537.4" r="8.3"/>
<circle cx="2208.6" cy="2711.6" r="8.3"/>
<circle cx="2209.9" cy="2619.6" r="8.3"/>
<circle cx="2215.5" cy="2452.3" r="8.3"/>
<circle cx="2216.9" cy="2612.6" r="8.3"/>
<circle cx="2223.9" cy="2538.8" r="8.3"/>
<circle cx="2223.9" cy="2619.6" r="8.3"/>
<circle cx="2226.1" cy="2364.5" r="8.3"/>
<circle cx="2233.6" cy="2540.1" r="8.3"/>
<circle cx="2235.6" cy="2457.9" r="8.3"/>
<circle cx="2238.4" cy="2477.4" r="8.3"/>
<circle cx="2242" cy="2563" r="8.3"/>
<circle cx="2243.4" cy="2576.4" r="8.3"/>
<circle cx="2250.4" cy="2656.4" r="8.3"/>
<circle cx="2253.5" cy="2578.8" r="8.3"/>
<circle cx="2254.6" cy="2601.5" r="8.3"/>
<circle cx="2258.2" cy="2246.8" r="8.3"/>
<circle cx="2258.6" cy="2662.5" r="8.3"/>
<circle cx="2261.5" cy="2561.1" r="8.3"/>
<circle cx="2267.1" cy="2669.2" r="8.3"/>
<circle cx="2268.5" cy="2607.1" r="8.3"/>
<circle cx="2271.3" cy="2542.9" r="8.3"/>
<circle cx="2273.8" cy="2608" r="8.3"/>
<circle cx="2278.8" cy="2558.3" r="8.3"/>
<circle cx="2278.8" cy="2674" r="8.3"/>
<circle cx="2281" cy="2629.4" r="8.3"/>
<circle cx="2281" cy="2682.3" r="8.3"/>
<circle cx="2285.2" cy="2601.5" r="8.3"/>
<circle cx="2286.1" cy="2697.7" r="8.3"/>
<circle cx="2286.6" cy="2646.1" r="8.3"/>
<circle cx="2288.6" cy="2579.7" r="8.3"/>
<circle cx="2291.5" cy="2649.8" r="8.3"/>
<circle cx="2296.6" cy="2585.2" r="8.3"/>
<circle cx="2297.8" cy="2545.7" r="8.3"/>
<circle cx="2301.4" cy="2491.9" r="8.3"/>
<circle cx="2302" cy="2640.5" r="8.3"/>
<circle cx="2306.7" cy="2640.9" r="8.3"/>
<circle cx="2308.1" cy="2382.6" r="8.3"/>
<circle cx="2309.8" cy="2595.9" r="8.3"/>
<circle cx="2311.2" cy="2607.1" r="8.3"/>
<circle cx="2315.9" cy="2640.5" r="8.3"/>
<circle cx="2315.9" cy="2648.9" r="8.3"/>
<circle cx="2316.4" cy="2699.1" r="8.3"/>
<circle cx="2318.7" cy="2490.8" r="8.3"/>
<circle cx="2319.4" cy="2606.7" r="8.3"/>
<circle cx="2320.6" cy="2529" r="8.3"/>
<circle cx="2324.8" cy="2588.1" r="8.3"/>
<circle cx="2328.4" cy="2552.7" r="8.3"/>
<circle cx="2334" cy="2601.5" r="8.3"/>
<circle cx="2337.4" cy="2646.1" r="8.3"/>
<circle cx="2338.4" cy="2556" r="8.3"/>
<circle cx="2341.5" cy="2229.8" r="8.3"/>
<circle cx="2342.4" cy="2595.9" r="8.3"/>
<circle cx="2344.7" cy="2606.7" r="8.3"/>
<circle cx="2345.7" cy="2696.3" r="8.3"/>
<circle cx="2347.1" cy="2502" r="8.3"/>
<circle cx="2349.3" cy="2516.4" r="8.3"/>
<circle cx="2353.5" cy="2563" r="8.3"/>
<circle cx="2353.5" cy="2611.8" r="8.3"/>
<circle cx="2354.9" cy="2655.3" r="8.3"/>
<circle cx="2357.4" cy="2638.4" r="8.3"/>
<circle cx="2361.9" cy="2573.6" r="8.3"/>
<circle cx="2362.5" cy="2662.5" r="8.3"/>
<circle cx="2363.3" cy="2711.6" r="8.3"/>
<circle cx="2363.8" cy="2585.2" r="8.3"/>
<circle cx="2366.9" cy="2628" r="8.3"/>
<circle cx="2366.9" cy="2672.6" r="8.3"/>
<circle cx="2370" cy="2599" r="8.3"/>
<circle cx="2370.3" cy="2648" r="8.3"/>
<circle cx="2370.3" cy="2686.5" r="8.3"/>
<circle cx="2373" cy="2609.3" r="8.3"/>
<circle cx="2374.4" cy="2694.9" r="8.3"/>
<circle cx="2375.8" cy="2660" r="8.3"/>
<circle cx="2377.2" cy="2633.6" r="8.3"/>
<circle cx="2377.7" cy="2619.4" r="8.3"/>
<circle cx="2377.7" cy="2687.8" r="8.3"/>
<circle cx="2378.6" cy="2584.8" r="8.3"/>
<circle cx="2378.6" cy="2612.6" r="8.3"/>
<circle cx="2381.4" cy="2674" r="8.3"/>
</g>
<line x1="448" y1="2279" x2="2390" y2="2560" stroke="#000" stroke-opacity="0.45" stroke-width="12" filter="url(#sh)"/>
<line x1="439" y1="2265.5" x2="2385" y2="2545.5" stroke="#2b8bd9" stroke-width="14.2"/>
<text transform="translate(1160.2 1635.9) scale(1.0436 1)" font-size="73" fill="#8c8c8c">MIS 5</text>
<text transform="translate(1551.5 1635.9) scale(1.0231 1)" font-size="73" fill="#8c8c8c">MIS 5a</text>
<text transform="translate(1796.1 1639.1) scale(1.0446 1)" font-size="73" fill="#8c8c8c">MIS 3</text>
<text transform="translate(2161 1635.9) scale(1.0473 1)" font-size="73" fill="#8c8c8c">MIS 1</text>
<text transform="translate(1395.3 1631) scale(0.9933 1)" font-size="123" fill="#000" font-weight="bold">b</text>
<text transform="translate(255.5 1870.8) scale(1.1188 1)" font-size="61" fill="#101018" stroke="#101018" stroke-width="0.3">900</text>
<text transform="translate(255.3 2184.1) scale(1.1206 1)" font-size="61" fill="#101018" stroke="#101018" stroke-width="0.3">600</text>
<text transform="translate(256.2 2503.9) scale(1.1118 1)" font-size="61" fill="#101018" stroke="#101018" stroke-width="0.3">300</text>
<text transform="translate(329.9 2818.8) scale(1.1673 1)" font-size="61" fill="#101018" stroke="#101018" stroke-width="0.3">0</text>
<text transform="translate(195.8 1551) scale(1.1366 1)" font-size="61" fill="#101018" stroke="#101018" stroke-width="0.3">1,200</text>
<text transform="translate(2360.2 2918.8) scale(1.1673 1)" font-size="61" fill="#101018" stroke="#101018" stroke-width="0.3">0</text>
<text transform="translate(2126.6 2918.8) scale(1.1411 1)" font-size="61" fill="#101018" stroke="#101018" stroke-width="0.3">25</text>
<text transform="translate(1912.9 2918.8) scale(1.1273 1)" font-size="61" fill="#101018" stroke="#101018" stroke-width="0.3">50</text>
<text transform="translate(1697.8 2918.8) scale(1.1411 1)" font-size="61" fill="#101018" stroke="#101018" stroke-width="0.3">75</text>
<text transform="translate(1463.2 2918.8) scale(1.1386 1)" font-size="61" fill="#101018" stroke="#101018" stroke-width="0.3">100</text>
<text transform="translate(1248.8 2918.8) scale(1.1404 1)" font-size="61" fill="#101018" stroke="#101018" stroke-width="0.3">125</text>
<text transform="translate(1034.4 2918.8) scale(1.1386 1)" font-size="61" fill="#101018" stroke="#101018" stroke-width="0.3">150</text>
<text transform="translate(820 2918.8) scale(1.1404 1)" font-size="61" fill="#101018" stroke="#101018" stroke-width="0.3">175</text>
<text transform="translate(607.4 2918.8) scale(1.1206 1)" font-size="61" fill="#101018" stroke="#101018" stroke-width="0.3">200</text>
<text transform="translate(393 2918.8) scale(1.1223 1)" font-size="61" fill="#101018" stroke="#101018" stroke-width="0.3">225</text>
<text transform="translate(1170.8 3025.6) scale(1.0130 1)" font-size="76.5" fill="#101018" stroke="#101018" stroke-width="1.0">Kyb1950</text>
<text transform="translate(164.1 2630.5) rotate(-90) scale(0.9673 1)" font-size="76.5" fill="#101018" stroke="#101018" stroke-width="1.0">TO</text>
<text transform="translate(187.2 2529.4) rotate(-90) scale(0.8813 1)" font-size="55" fill="#101018" font-weight="bold">C350V</text>
<text transform="translate(164.1 2359.2) rotate(-90) scale(0.9808 1)" font-size="76.5" fill="#101018" stroke="#101018" stroke-width="1.0">cycle</text>
<text transform="translate(164.1 2169.3) rotate(-90) scale(1.0679 1)" font-size="76.5" fill="#101018" stroke="#101018" stroke-width="1.0">period</text>
<text transform="translate(164.1 1925.9) rotate(-90) scale(1.0156 1)" font-size="76.5" fill="#101018" stroke="#101018" stroke-width="1.0">(years)</text>
</g></svg></body></html>
